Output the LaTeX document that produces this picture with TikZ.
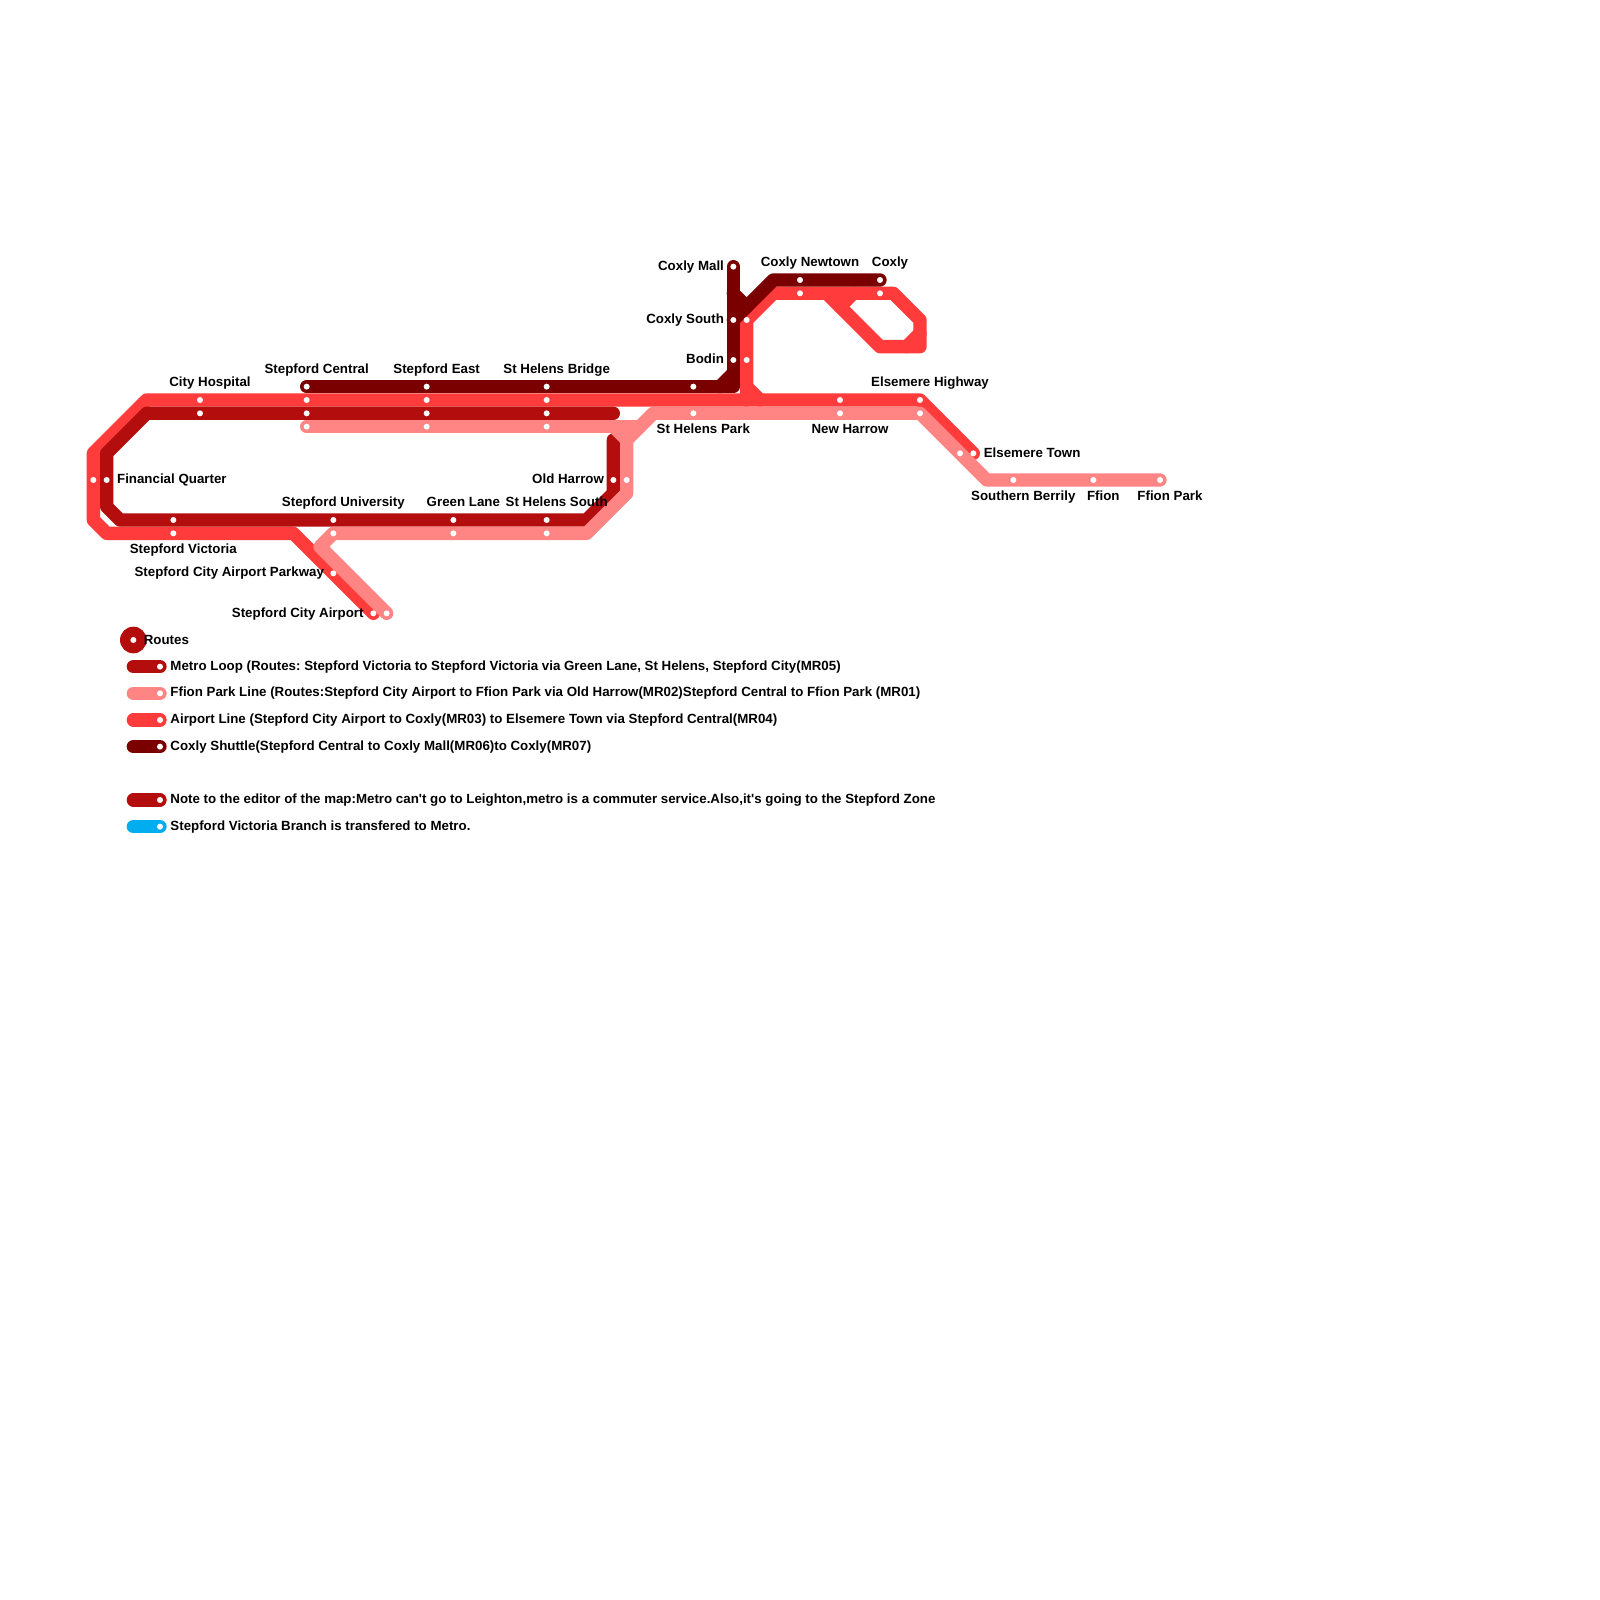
\documentclass[tikz,border=0pt]{standalone}
\usepackage{fontspec}
\setmainfont[RawFeature=-liga]{Liberation Sans}
\definecolor{loopred}{HTML}{B30D0D}
\definecolor{airred}{HTML}{FF3B3B}
\definecolor{ffionpink}{HTML}{FF8585}
\definecolor{shuttle}{HTML}{7A0000}
\definecolor{branchblue}{HTML}{00ADEF}
\tikzset{
  route/.style={line width=2mm,line cap=round,line join=round},
  stn/.style={circle,fill=white,inner sep=0pt,minimum size=.9mm},
  lbl/.style={inner sep=0pt,text height=1.45mm,text depth=0pt,font=\fontsize{5.68}{6.8}\selectfont\bfseries\frenchspacing},
}
\begin{document}
\begin{tikzpicture}[x=.2cm,y=-.2cm]
\useasboundingbox (0,0) rectangle (120,120);
% airport line
\draw[route,airred] (28,46)--(22,40)--(8,40)--(7,39)--(7,34)--(11,30)--(69,30)--(73,34);
\draw[route,airred] (57,30)--(56,29)--(56,24)--(58,22)--(67,22)--(69,24)--(69,26)--(66,26)--(62,22);
\draw[route,airred] (56,29)--(56,30);
\draw[route,airred] (69,25)--(68,26);
\draw[route,airred] (64,22)--(63,23);
% metro loop
\draw[route,loopred] (46,31)--(11,31)--(8,34)--(8,38)--(9,39)--(44,39)--(46,37)--(46,33);
% coxly shuttle
\draw[route,shuttle] (23,29)--(55,29)--(55,20);
\draw[route,shuttle] (54,29)--(55,28);
\draw[route,shuttle] (66,21)--(58,21)--(56,23)--(55,22);
\draw[route,shuttle] (55,24)--(56,23);
% ffion park line
\draw[route,ffionpink] (29,46)--(24,41)--(25,40)--(44,40)--(47,37)--(47,33)--(49,31)--(69,31)--(74,36)--(87,36);
\draw[route,ffionpink] (23,32)--(48,32);
\draw[route,ffionpink] (46,32)--(47,33);
% stations
\foreach \x/\y in {23/29,32/29,41/29,52/29,55/20,55/24,55/27,60/21,66/21,
  15/30,23/30,32/30,41/30,63/30,69/30,73/34,56/24,56/27,60/22,66/22,7/36,13/40,25/43,28/46,
  15/31,23/31,32/31,41/31,8/36,13/39,25/39,34/39,41/39,46/36,
  23/32,32/32,41/32,25/40,34/40,41/40,47/36,52/31,63/31,69/31,72/34,76/36,82/36,87/36,29/46}
  {\node[stn] (s\x-\y) at (\x,\y) {};}
% labels above and below
\foreach \x/\y/\txt in {15.75/28.6/City Hospital,23.75/27.65/Stepford Central,32.75/27.65/Stepford East,41.75/27.65/St Helens Bridge,
  25.75/37.6/Stepford University,34.75/37.6/Green Lane,41.75/37.6/St Helens South,13.75/41.15/Stepford Victoria,
  60.75/19.65/Coxly Newtown,66.75/19.65/Coxly,52.75/32.15/St Helens Park,63.75/32.15/New Harrow,69.75/28.65/Elsemere Highway,
  76.75/37.15/Southern Berrily,82.75/37.15/Ffion,87.75/37.15/Ffion Park}
  {\node[lbl] (l\x-\y) at (\x,\y) {\txt};}
% labels to the left
\foreach \x/\y/\txt in {24.33/42.9/Stepford City Airport Parkway,27.3/45.95/Stepford City Airport,54.33/19.9/Coxly Mall,
  54.33/23.9/Coxly South,54.33/26.9/Bodin,45.33/35.9/Old Harrow}
  {\node[lbl,anchor=east] (l\x-\y) at (\x,\y) {\txt};}
% labels to the right
\node[lbl,anchor=west] (lfin) at (8.75,35.9) {Financial Quarter};
\node[lbl,anchor=west] (lels) at (73.75,33.95) {Elsemere Town};
% key
\node[circle,fill=loopred,inner sep=0pt,minimum size=4mm] (keydot) at (10,48) {};
\node[stn] (keystn) at (10,48) {};
\node[lbl,anchor=west] (keyhead) at (10.75,47.95) {Routes};
\foreach \y/\col/\txt in {50/loopred/{Metro Loop (Routes: Stepford Victoria to Stepford Victoria via Green Lane, St Helens, Stepford City(MR05)},
  52/ffionpink/{Ffion Park Line (Routes:Stepford City Airport to Ffion Park via Old Harrow(MR02)Stepford Central to Ffion Park (MR01)},
  54/airred/{Airport Line (Stepford City Airport to Coxly(MR03) to Elsemere Town via Stepford Central(MR04)},
  56/shuttle/{Coxly Shuttle(Stepford Central to Coxly Mall(MR06)to Coxly(MR07)},
  60/loopred/{Note to the editor of the map:Metro can\textquotesingle{}t go to Leighton,metro is a commuter service.Also,it\textquotesingle{}s going to the Stepford Zone},
  62/branchblue/{Stepford Victoria Branch is transfered to Metro.}}
  {\coordinate (k\y) at (10,\y);
   \coordinate (kend\y) at (12,\y);
   \draw[route,\col] (k\y)--(kend\y);
   \node[stn] (kstn\y) at (kend\y) {};
   \node[lbl,anchor=west] (ktxt\y) at (12.75,\y-.1) {\txt};}
\end{tikzpicture}
\end{document}
